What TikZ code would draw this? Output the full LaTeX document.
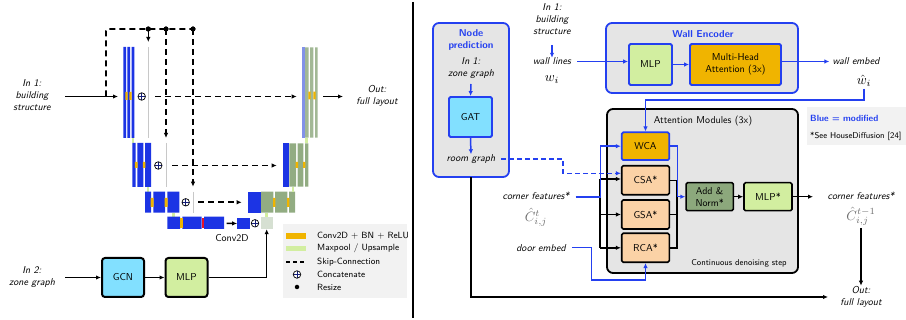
\documentclass[tikz,border=0pt]{standalone}
\usepackage{graphicx}
\usetikzlibrary{arrows.meta,calc}
\definecolor{ublue}{RGB}{28,52,228}
\definecolor{rblue}{RGB}{36,64,240}
\definecolor{uorange}{RGB}{240,180,0}
\definecolor{ulgreen}{RGB}{210,238,160}
\definecolor{ugreen}{RGB}{146,172,130}
\definecolor{ucyan}{RGB}{130,224,255}
\definecolor{upeach}{RGB}{251,210,166}
\definecolor{ugrey}{RGB}{229,229,229}
\definecolor{legbg}{RGB}{242,242,242}
\definecolor{uperi}{RGB}{130,146,232}
\definecolor{ulbox}{RGB}{214,224,210}
\definecolor{ugline}{RGB}{200,200,200}
\definecolor{ured}{RGB}{230,20,40}
\definecolor{addgreen}{RGB}{140,168,124}
\definecolor{hatgrey}{RGB}{110,110,110}
\definecolor{plusblue}{RGB}{20,30,120}
\newcommand{\bigmath}[1]{\scalebox{1.35}{$#1$}}
\begin{document}
\begin{tikzpicture}[x=1pt,y=-1pt,font=\sffamily,
  arr/.style={-{Latex[length=5pt,width=4.5pt]}},
  bline/.style={line width=1.5pt,black},
  blueline/.style={line width=1.5pt,rblue},
  skipline/.style={line width=1.6pt,dash pattern=on 6pt off 4pt},
  lab/.style={align=center,font=\sffamily\itshape,inner sep=0pt},
  mathlab/.style={inner sep=0pt},
  concat/.style={circle,draw=black,line width=0.7pt,inner sep=0pt,minimum size=7.5pt,fill=white,
    path picture={\draw[line width=0.9pt,plusblue] (path picture bounding box.north) -- (path picture bounding box.south) (path picture bounding box.west) -- (path picture bounding box.east);}},
  dotn/.style={circle,fill=black,inner sep=0pt,minimum size=5pt},
  lbox/.style={draw=black,line width=2pt,rounded corners=3pt,minimum width=42pt,minimum height=39pt,inner sep=0pt},
  rbox/.style={draw=rblue,line width=1.8pt,rounded corners=1.5pt,inner sep=0pt,align=center},
  kbox/.style={draw=black,line width=1.6pt,rounded corners=1.5pt,inner sep=0pt,align=center},
  panel/.style={fill=ugrey,rounded corners=6pt,line width=1.8pt},
  legtext/.style={anchor=west,inner sep=0pt,font=\sffamily\fontsize{9}{10}\selectfont},
]
\useasboundingbox (0,0) rectangle (906,320);

% ================= LEFT PANEL =================
% level 1 encoder
\fill[ublue] (123.3,47) rectangle (126,138) (127.3,47) rectangle (130,138) (131.7,47) rectangle (134.4,138);
\fill[uorange] (125.3,92) rectangle (127.6,100) (129.4,92) rectangle (131.7,100);
\fill[ulgreen] (132,138) rectangle (134.4,143);
\draw[ugline,line width=1pt] (148.3,47) -- (148.3,138);
% level 2 encoder
\fill[ublue] (132.3,143) rectangle (135.7,187) (137.3,143) rectangle (143.3,187) (145,143) rectangle (151,187);
\fill[uorange] (134.8,162) rectangle (137.6,168) (142.8,162) rectangle (145.4,168);
\fill[ulgreen] (146.7,187) rectangle (149,191.7);
\draw[ugline,line width=1pt] (166.3,143) -- (166.3,187);
% level 3 encoder
\fill[ublue] (145,191.7) rectangle (151,212.7) (153.3,191.7) rectangle (165,212.7) (167.3,191.7) rectangle (179.3,212.7);
\fill[uorange] (150.5,198) rectangle (153.6,207) (164.6,198) rectangle (167.6,207);
\fill[ulgreen] (172,212.7) rectangle (174.5,216.7);
\draw[ugline,line width=1pt] (193.3,191.7) -- (193.3,212.7);
% bottleneck
\fill[ublue] (167.3,216.7) rectangle (180,229) (182.3,216.7) rectangle (201.7,229) (204,216.7) rectangle (224,229);
\fill[uorange] (179.6,218) rectangle (182.6,228);
\fill[ured] (201.5,218) rectangle (204.2,228);
% level 3 decoder
\fill[ulgreen] (265,212.7) rectangle (267.7,217);
\fill[ublue] (248.3,191.7) rectangle (261,212.7);
\fill[ugreen] (261,191.7) rectangle (273.3,212.7) (275,191.7) rectangle (287.3,212.7) (289,191.7) rectangle (295,212.7);
\fill[uorange] (273,198) rectangle (275.3,207) (287,198) rectangle (289.3,207);
% level 2 decoder
\fill[ulgreen] (291.7,186.7) rectangle (294,191.7);
\fill[ublue] (282.7,143.3) rectangle (289.3,186.7);
\fill[ugreen] (289.3,143.3) rectangle (296,186.7) (297.7,143.3) rectangle (303.3,186.7) (305,143.3) rectangle (308.3,186.7);
\fill[uorange] (295.7,162) rectangle (298,168) (303,162) rectangle (305.3,168);
% level 1 decoder
\fill[ulgreen] (305,137.7) rectangle (308,143.3);
\fill[uperi] (301.7,47.3) rectangle (305,137.7);
\fill[ugreen!85!white] (305,47.3) rectangle (308.6,137.7) (310,47.3) rectangle (313.3,137.7) (315,47.3) rectangle (317.7,137.7);
\fill[uorange] (308.3,91.7) rectangle (310.7,99.3) (313.3,91.7) rectangle (315.7,99.3);

% bottleneck nodes
\coordinate (bA) at (226.7,223.3);
\node[fill=ublue,minimum width=12.7pt,minimum height=11.6pt,inner sep=0pt] (bB) at (243.7,223.5) {};
\node[fill=ulbox,minimum width=12pt,minimum height=12pt,inner sep=0pt] (bC) at (266.7,223) {};
\draw[bline,arr] (bA) -- (bB.west);
\node[inner sep=0pt] (conv) at (232,238) {Conv2D};

% skip connections
\coordinate (s1a) at (155,96.5); \coordinate (s1b) at (296.7,96.5);
\coordinate (s2a) at (172,165.5); \coordinate (s2b) at (276.7,165.5);
\coordinate (s3a) at (198,202.3); \coordinate (s3b) at (241.7,202.3);
\draw[skipline,arr] (s1a) -- (s1b);
\draw[skipline,arr] (s2a) -- (s2b);
\draw[skipline,arr] (s3a) -- (s3b);

% input / resize lines
\node[lab] (in1) at (32,95) {In 1:\\building\\structure};
\coordinate (inA) at (65,96.5); \coordinate (inB) at (118,96.5); \coordinate (inJ) at (106,96.5);
\coordinate (topL) at (106,29);
\node[dotn] (d1) at (148.3,29) {};
\node[dotn] (d2) at (166,29) {};
\node[dotn] (d3) at (193,29) {};
\coordinate (d1e) at (148.3,42); \coordinate (d2e) at (166,138); \coordinate (d3e) at (193,186.7);
\draw[skipline,rounded corners=2pt] (inJ) -- (topL) -- (d3.center);
\draw[bline,arr] (d1.center) -- (d1e);
\draw[skipline,arr] (d2.center) -- (d2e);
\draw[skipline,arr] (d3.center) -- (d3e);
\draw[bline,arr] (inA) -- (inB);
\node[dotn] at (148.3,29) {};
\node[dotn] at (166,29) {};
\node[dotn] at (193,29) {};

% concat symbols
\node[concat] (c1) at (141.7,96.5) {};
\node[concat] (c2) at (158.3,165.5) {};
\node[concat] (c3) at (185.7,202.3) {};
\node[concat] (c4) at (255,223.3) {};

% output
\coordinate (outA) at (323,96.5); \coordinate (outB) at (343,96.5);
\draw[bline,arr] (outA) -- (outB);
\node[lab] (out1) at (377,95.5) {Out:\\full layout};

% GCN / MLP
\node[lab] (in2) at (32,277.5) {In 2:\\zone graph};
\node[lbox,fill=ucyan] (gcn) at (123,277.5) {GCN};
\node[lbox,fill=ulgreen] (mlpL) at (186.5,277.5) {MLP};
\coordinate (in2A) at (65,277.5);
\draw[bline,arr] (in2A) -- (gcn.west);
\draw[bline,arr] (gcn) -- (mlpL);
\draw[bline,arr] (mlpL.east) -| (bC.south);

% legend
\fill[legbg] (283,224) rectangle (407,298);
\fill[uorange] (286,233.5) rectangle (306,239);
\fill[ulgreen] (286,246) rectangle (306,251.5);
\coordinate (lsA) at (286,262); \coordinate (lsB) at (306,262);
\draw[line width=1.2pt,dash pattern=on 4pt off 3pt] (lsA) -- (lsB);
\node[concat] (lc) at (297,274.5) {};
\node[dotn,minimum size=4.5pt] (ld) at (297,287) {};
\node[legtext] (l1) at (317,236) {Conv2D + BN + ReLU};
\node[legtext] (l2) at (317,248.5) {Maxpool / Upsample};
\node[legtext] (l3) at (317,262) {Skip-Connection};
\node[legtext] (l4) at (317,274.5) {Concatenate};
\node[legtext] (l5) at (317,287) {Resize};

% divider
\draw[line width=1.2pt] (413,2) -- (413,318);

% ================= RIGHT PANEL =================
\draw[panel,draw=rblue] (433,23) rectangle (509,177);
\draw[panel,draw=rblue] (606,23) rectangle (798,93);
\draw[panel,draw=black] (607,109) rectangle (798,273);

% node prediction
\node[font=\sffamily\bfseries,text=rblue,align=center,inner sep=0pt] (nptitle) at (471,40.5) {Node\\prediction};
\node[lab] (npin) at (471,68) {In 1:\\zone graph};
\node[rbox,fill=ucyan,minimum width=43pt,minimum height=40pt] (gat) at (470.5,117) {GAT};
\node[lab] (rg) at (471,159) {room graph};
\coordinate (npA) at (471,84);
\draw[blueline,arr] (npA) -- (gat.north);
\draw[blueline,arr] (gat.south) -- (rg.north);

% wall encoder
\node[lab] (rin1) at (552,19) {In 1:\\building\\structure};
\node[lab] (wl) at (552,61.5) {wall lines};
\node[mathlab] (wi) at (552,80) {\bigmath{w_i}};
\coordinate (wlA) at (552,45);
\draw[blueline,arr] (wlA) -- (wl.north);
\node[font=\sffamily\bfseries,text=rblue,inner sep=0pt] (wetitle) at (703,34) {Wall Encoder};
\node[rbox,fill=ulgreen,minimum width=43pt,minimum height=41pt] (mlpW) at (650.5,64.5) {MLP};
\node[rbox,fill=uorange,minimum width=91pt,minimum height=41pt] (mha) at (735.5,64.5) {Multi-Head\\Attention (3x)};
\draw[blueline,arr] ([xshift=6pt]wl.east) -- (wl.east -| mlpW.west);
\draw[blueline,arr] (mlpW) -- (mha);
\node[lab] (we) at (856,61.5) {wall embed};
\node[mathlab] (wh) at (864,80.5) {\bigmath{\hat{w}_i}};
\draw[blueline,arr] (mha.east |- we.west) -- ([xshift=-3pt]we.west);

% attention modules
\node[inner sep=0pt] (amt) at (703,121) {Attention Modules (3x)};
\node[inner sep=0pt,font=\sffamily\fontsize{8.5}{10}\selectfont] (cds) at (739,263) {Continuous denoising step};
\node[rbox,fill=uorange,minimum width=47.6pt,minimum height=27.7pt] (wca) at (645.5,146.2) {WCA};
\node[kbox,fill=upeach,minimum width=47.6pt,minimum height=29pt] (csa) at (645.5,180.3) {CSA*};
\node[kbox,fill=upeach,minimum width=47.6pt,minimum height=29pt] (gsa) at (645.5,214.5) {GSA*};
\node[kbox,fill=upeach,minimum width=47.6pt,minimum height=29pt] (rca) at (645.5,247.8) {RCA*};
\node[kbox,fill=addgreen,minimum width=47.3pt,minimum height=28pt] (addn) at (709.7,196.7) {Add \&\\Norm*};
\node[kbox,fill=ulgreen,minimum width=48pt,minimum height=28pt] (mlpS) at (768,196.7) {MLP*};

% wall embed to WCA
\coordinate (wturn) at (864,100);
\coordinate (whA) at (864,89);
\draw[blueline,arr] (whA) -- (wturn) -| (wca.north);

% corner features input
\node[lab] (cf) at (536,195.5) {corner features*};
\node[mathlab,text=hatgrey] (cft) at (536,217.5) {\bigmath{\hat{C}^{t}_{i,j}}};
\coordinate (jt) at (600,179);
\coordinate (jb) at (600,247.8);
\coordinate (jx) at (600.5,197);
\draw[bline] (jt) -- (jb);
\draw[bline,arr] (jt) -- (jt -| csa.west);
\draw[bline,arr] (gsa.west -| jt) -- (gsa.west);
\draw[bline,arr] (jb) -- (rca.west);
\draw[blueline] (cf.east |- jx) ++(6,0) -- (jx);
\draw[blueline,arr] (jx) |- (wca.west);

% room graph dashed
\coordinate (rgc) at (563,173.3);
\draw[blueline,dash pattern=on 5pt off 3pt,arr] ([xshift=6pt]rg.east) -| (rgc) -- (rgc -| csa.west);

% door embed
\node[lab] (de) at (541,247.7) {door embed};
\coordinate (dturn) at (591.7,280);
\draw[blueline,arr] ([xshift=6pt]de.east) -| (dturn) -| (rca.south);

% outputs of attention
\coordinate (oxt) at (677,180.3);
\coordinate (oxb) at (677,247.8);
\draw[bline] (csa.east) -- (oxt) -- (oxb) -- (rca.east);
\draw[bline] (gsa.east) -- (gsa.east -| oxt);
\coordinate (bo) at (677.3,196.7);
\draw[blueline,arr] (wca.east) -| (bo) -- (addn.west);
\draw[bline,arr] (addn) -- (mlpS);

% right output
\node[lab] (cfo) at (861,195.5) {corner features*};
\node[mathlab,text=hatgrey] (cfot) at (861,216.5) {\bigmath{\hat{C}^{t-1}_{i,j}}};
\coordinate (cfoA) at (813,196.7);
\draw[bline,arr] (mlpS.east) -- (cfoA);
\node[lab] (out2) at (861,296.5) {Out:\\full layout};
\coordinate (cfB) at (861,228);
\draw[bline,arr] (cfB) -- (out2.north);
\coordinate (npB) at (471,177);
\coordinate (npC) at (471,297);
\coordinate (npD) at (828,297);
\draw[bline,arr] (npB) -- (npC) -- (npD);

% right legend
\fill[legbg] (807,107) rectangle (906,145);
\node[anchor=west,inner sep=0pt,font=\sffamily\bfseries\fontsize{9}{10}\selectfont,text=rblue] (bm) at (810,118) {Blue = modified};
\node[anchor=west,inner sep=0pt,font=\sffamily\fontsize{8.5}{10}\selectfont] (hd) at (810,136) {*See HouseDiffusion [24]};
\end{tikzpicture}
\end{document}
